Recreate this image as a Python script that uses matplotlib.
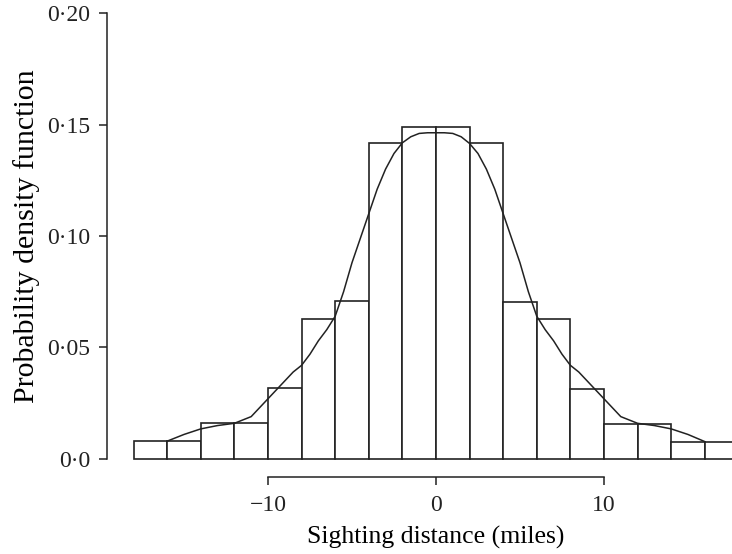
import numpy as np
import matplotlib.pyplot as plt

# histogram of sighting distances (bin edges every 2 miles)
bin_edges = [-18, -16, -14, -12, -10, -8, -6, -4, -2, 0, 2, 4, 6, 8, 10, 12, 14, 16, 18]
bar_heights = [0.008, 0.008, 0.016, 0.016, 0.032, 0.063, 0.071, 0.1415, 0.149,
               0.149, 0.1415, 0.0705, 0.063, 0.0315, 0.0155, 0.0155, 0.0074, 0.0074]

# smooth density estimate
curve_x = [-16, -15, -14, -13, -12, -11, -10, -9.5, -9, -8.5, -8, -7.5, -7, -6.5, -6,
           -5.5, -5, -4.5, -4, -3.5, -3, -2.5, -2, -1.5, -1, -0.5, 0,
           0.5, 1, 1.5, 2, 2.5, 3, 3.5, 4, 4.5, 5, 5.5, 6, 6.5, 7, 7.5, 8,
           8.5, 9, 9.5, 10, 11, 12, 13, 14, 15, 16]
curve_y = [0.008, 0.011, 0.0135, 0.015, 0.016, 0.019, 0.027, 0.031, 0.035, 0.039, 0.042,
           0.047, 0.053, 0.058, 0.064, 0.075, 0.088, 0.099, 0.110, 0.121, 0.130, 0.137,
           0.1418, 0.1445, 0.146, 0.1463, 0.1463,
           0.1463, 0.146, 0.1445, 0.1415, 0.137, 0.130, 0.121, 0.110, 0.099, 0.088,
           0.075, 0.064, 0.058, 0.053, 0.047, 0.042, 0.039, 0.035, 0.031, 0.027,
           0.019, 0.016, 0.015, 0.0135, 0.011, 0.0078]

y_ticks = [0.0, 0.05, 0.10, 0.15, 0.20]
y_tick_labels = ['0\u00b70', '0\u00b705', '0\u00b710', '0\u00b715', '0\u00b720']
x_ticks = [-10, 0, 10]
x_tick_labels = ['\u221210', '0', '10']

plt.rcParams['font.family'] = ['Liberation Serif', 'DejaVu Serif']
plt.rcParams['font.size'] = 17

fig = plt.figure(figsize=(7.32, 5.54), dpi=100)
ax = fig.add_axes([0.1462, 0.1715, 0.8538, 0.805])

ink = '#222222'
edges = np.array(bin_edges)
ax.bar(edges[:-1], bar_heights, width=np.diff(edges), align='edge',
       facecolor='white', edgecolor=ink, linewidth=1.2, clip_on=False, zorder=2)
ax.plot(curve_x, curve_y, color=ink, linewidth=1.1, zorder=3)

ax.set_xlim(-19.58, 17.62)
ax.set_ylim(0, 0.2)

for s in ['top', 'right']:
    ax.spines[s].set_visible(False)
ax.spines['left'].set_bounds(0, 0.2)
ax.spines['bottom'].set_bounds(-10, 10)
ax.spines['bottom'].set_position(('outward', 13))
for s in ['left', 'bottom']:
    ax.spines[s].set_linewidth(1.1)
    ax.spines[s].set_color(ink)

ax.set_yticks(y_ticks)
ax.set_yticklabels(y_tick_labels)
ax.set_xticks(x_ticks)
ax.set_xticklabels(x_tick_labels)
ax.tick_params(axis='both', direction='out', length=6, width=1.1, colors=ink)
ax.tick_params(axis='y', pad=6)
ax.tick_params(axis='x', pad=7)

ax.set_xlabel('Sighting distance (miles)', fontsize=18.5, labelpad=7)
ax.set_ylabel('Probability density function', fontsize=21.5, labelpad=5)
xl = ax.get_xlim()
ax.xaxis.label.set_x((0 - xl[0]) / (xl[1] - xl[0]))

fig.savefig('out.png', dpi=100)
